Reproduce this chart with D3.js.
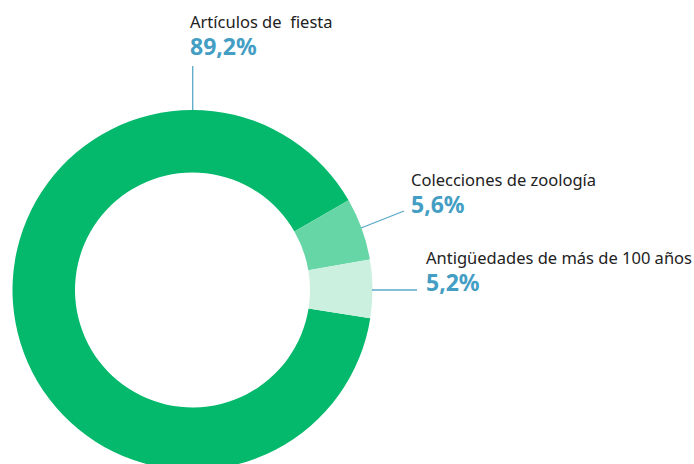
<!DOCTYPE html>
<html><head><meta charset="utf-8">
<script src="https://cdn.jsdelivr.net/npm/d3@7"></script>
<style>body{margin:0;background:#fff}svg{display:block}</style>
</head><body>
<script>
const categories = ["Artículos de  fiesta", "Colecciones de zoología", "Antigüedades de más de 100 años"];
const values = [89.2, 5.6, 5.2];
const valueLabels = ["89,2%", "5,6%", "5,2%"];
const colors = ["#04b86c", "#66d6a6", "#ccf0e0"];

const W = 694, H = 464;
const cx = 192.5, cy = 290, rOuter = 180, rInner = 117.5;
const svg = d3.select("body").append("svg").attr("width", W).attr("height", H);
const g = svg.append("g").attr("transform", `translate(${cx},${cy})`);
const start = 99 * Math.PI / 180;
const pie = d3.pie().sort(null).value(d => d).startAngle(start).endAngle(start + 2 * Math.PI);
const arcs = pie(values);
const arc = d3.arc().innerRadius(rInner).outerRadius(rOuter);
g.selectAll("path").data(arcs).join("path").attr("d", arc).attr("fill", (d, i) => colors[i]);

// label layout (positions)
const labelPos = [
  {x: 190, y: 28, line: [[192.7, 66], [192.7, 110]]},
  {x: 411, y: 186, line: [[361, 228], [404, 211]]},
  {x: 426, y: 264, line: [[372, 290], [417, 290]]}
];
const lineColor = "#5aa8c8";
labelPos.forEach((p, i) => {
  svg.append("line").attr("x1", p.line[0][0]).attr("y1", p.line[0][1])
    .attr("x2", p.line[1][0]).attr("y2", p.line[1][1])
    .attr("stroke", lineColor).attr("stroke-width", 1.3);
  svg.append("text").attr("x", p.x).attr("y", p.y)
    .attr("font-family", "'Noto Sans', sans-serif").attr("font-size", 16.5)
    .attr("fill", "#222").style("white-space", "pre").text(categories[i]);
  svg.append("text").attr("x", p.x).attr("y", p.y + 27)
    .attr("font-family", "'Noto Sans', sans-serif").attr("font-size", 23).attr("font-weight", "bold")
    .attr("fill", "#449ec4").text(valueLabels[i]);
});
</script>
</body></html>
